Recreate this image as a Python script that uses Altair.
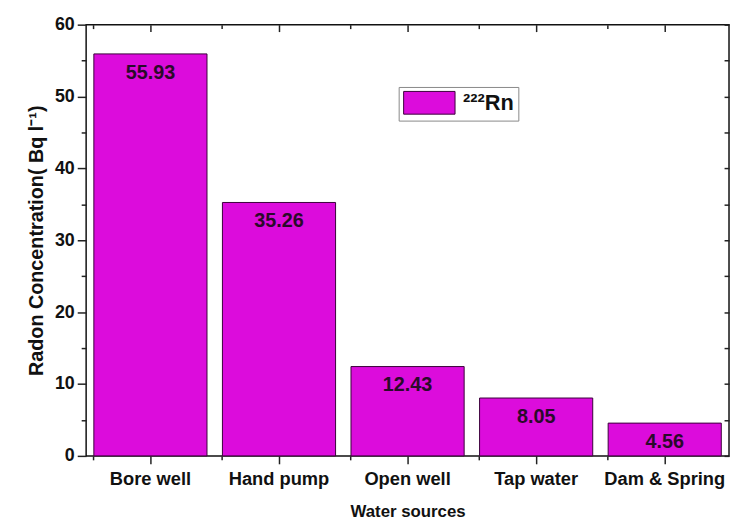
import altair as alt
import pandas as pd

sources = ["Bore well", "Hand pump", "Open well", "Tap water", "Dam & Spring"]
radon = [55.93, 35.26, 12.43, 8.05, 4.56]
labels = ["55.93", "35.26", "12.43", "8.05", "4.56"]
series = ["²²²Rn"] * 5

df = pd.DataFrame({"source": sources, "radon": radon, "label": labels, "series": series})

FONT = "Liberation Sans"
y_ticks = list(range(0, 61, 5))

xscale = alt.Scale(domain=sources, paddingInner=0.12, paddingOuter=0.06)
yscale = alt.Scale(domain=[0, 60], nice=False)

major_size = {"condition": {"test": "datum.value % 10 === 0", "value": 9}, "value": 5}

base = alt.Chart(df)

bars = base.mark_bar(stroke="#3a003a", strokeWidth=1).encode(
    x=alt.X("source:N", scale=xscale, sort=sources, title="Water sources",
            axis=alt.Axis(orient="bottom", labelAngle=0, tickSize=8, tickWidth=1.5,
                          tickColor="#222", domain=False, labelPadding=6,
                          labelFontSize=18.5, labelFont=FONT, labelFontWeight="bold",
                          labelColor="#111", titleFont=FONT, titleFontSize=17,
                          titleFontWeight="bold", titleColor="#111", titlePadding=16)),
    y=alt.Y("radon:Q", scale=yscale, title="Radon Concentration( Bq l⁻¹)",
            axis=alt.Axis(orient="left", values=y_ticks,
                          labelExpr="datum.value % 10 === 0 ? datum.label : ''",
                          tickSize=major_size, tickWidth=1.5, tickColor="#222",
                          domain=False, labelPadding=3, labelFontSize=18,
                          labelFont=FONT, labelFontWeight="bold", labelColor="#111",
                          titleFont=FONT, titleFontSize=20, titleFontWeight="bold",
                          titleColor="#111", titlePadding=8)),
    color=alt.Color("series:N", scale=alt.Scale(domain=["²²²Rn"], range=["#dc0cdc"]),
                    legend=alt.Legend(title=None, orient="none", legendX=316, legendY=63,
                                      symbolType="M-2.26,-1L2.26,-1L2.26,1L-2.26,1Z",
                                      symbolSize=529, symbolStrokeColor="#3a003a",
                                      symbolStrokeWidth=1, symbolOpacity=1,
                                      symbolOffset=15,
                                      labelFont=FONT, labelFontSize=22,
                                      labelFontWeight="bold", labelColor="#111",
                                      padding=4, strokeColor="#888", fillColor="white",
                                      labelOffset=22)),
)

text = base.mark_text(font=FONT, fontSize=20, fontWeight="bold", color="#2a0a2a",
                      baseline="top", dy=9).encode(
    x=alt.X("source:N", scale=xscale, sort=sources, axis=None),
    y=alt.Y("radon:Q", scale=yscale, axis=None),
    text="label:N",
)

mirror = base.mark_bar(opacity=0).encode(
    x=alt.X("source:N", scale=xscale, sort=sources,
            axis=alt.Axis(orient="top", offset=-7, tickSize=7, tickWidth=1.5,
                          tickColor="#222", domain=False, labels=False, title=None,
                          grid=False)),
    y=alt.Y("radon:Q", scale=yscale,
            axis=alt.Axis(orient="right", values=y_ticks, offset=-5, tickSize=5,
                          tickWidth=1.5, tickColor="#222", domain=False,
                          labels=False, title=None, grid=False)),
)

minor_bottom = base.mark_bar(opacity=0).encode(
    x=alt.X("source:N", scale=xscale, sort=sources,
            axis=alt.Axis(orient="bottom", bandPosition=0, tickSize=4, tickWidth=1.5,
                          tickColor="#222", domain=False, labels=False, title=None,
                          grid=False)),
    y=alt.Y("radon:Q", scale=yscale, axis=None),
)

minor_top = base.mark_bar(opacity=0).encode(
    x=alt.X("source:N", scale=xscale, sort=sources,
            axis=alt.Axis(orient="top", bandPosition=0, offset=-4, tickSize=4,
                          tickWidth=1.5, tickColor="#222", domain=False,
                          labels=False, title=None, grid=False)),
    y=alt.Y("radon:Q", scale=yscale, axis=None),
)

chart = alt.layer(bars, text, mirror, minor_bottom, minor_top).resolve_axis(
    x="independent", y="independent"
).properties(
    width=650, height=436,
    autosize=alt.AutoSizeParams(type="none"),
    padding={"left": 79, "top": 14, "right": 1, "bottom": 64},
    background="white",
).configure_view(stroke="#111", strokeWidth=1.5).configure_axis(grid=False)

chart.save("out.html", embed_options={"renderer": "svg", "actions": False})
